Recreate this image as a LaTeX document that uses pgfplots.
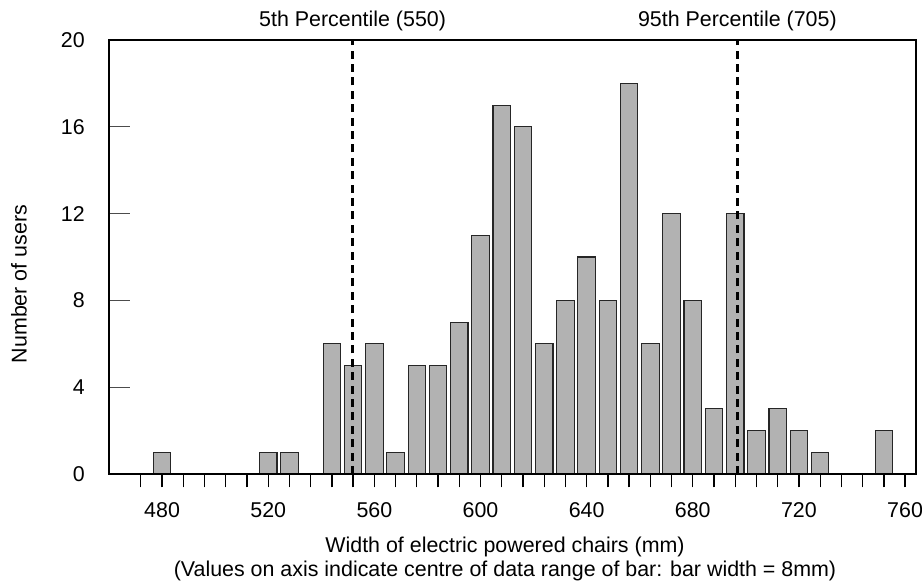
\documentclass[border=0pt]{standalone}
\usepackage{fontspec}
\setmainfont{Liberation Sans}
\usepackage{pgfplots}
\pgfplotsset{compat=1.18}
\begin{document}
\fontsize{10.7}{12.15}\selectfont
\begin{tikzpicture}
\useasboundingbox (-54.5pt,-54.5pt) rectangle (406.5pt,237pt);
\begin{axis}[
  at={(0,0)}, anchor=south west,
  scale only axis, width=403.35pt, height=217pt,
  xmin=460, xmax=764, ymin=0, ymax=20,
  axis on top, clip=false,
  axis line style={line width=1.2pt, black},
  tick align=outside,
  major tick length=6.7pt, minor tick length=6.7pt,
  xtick={480,520,...,760},
  minor xtick={472,488,496,504,512,528,536,544,552,568,576,584,592,608,616,624,632,648,656,664,672,688,696,704,712,728,736,744,752},
  xtick pos=bottom, ytick pos=left,
  ytick={0,4,...,20},
  tick style={black, line width=0.65pt},
  ytick style={draw=none},
  /pgf/number format/assume math mode=true,
  xticklabel style={yshift=-3.9pt},
  yticklabel style={xshift=-1.7pt},
  xlabel={Width of electric powered chairs (mm)\\(Values on axis indicate centre of data range of bar: bar width = 8mm)},
  xlabel style={at={(axis description cs:0.4909,0)}, anchor=north, inner sep=0pt, yshift=-31.1pt, align=center},
  ylabel={Number of users},
  ylabel style={at={(axis description cs:-0.1021,0.4378)}, anchor=base, rotate=0},
]
\addplot[ybar, bar width=6.6, fill=black!30, draw=black!85, line width=0.55pt] coordinates {
(480,1) (520,1) (528,1) (544,6) (552,5) (560,6) (568,1) (576,5) (584,5) (592,7)
(600,11) (608,17) (616,16) (624,6) (632,8) (640,10) (648,8) (656,18) (664,6)
(672,12) (680,8) (688,3) (696,12) (704,2) (712,3) (720,2) (728,1) (752,2)
};
\addplot[sharp plot, black, line width=1.2pt, dash pattern=on 4pt off 2.7pt] coordinates {(551.8,0) (551.8,20)};
\addplot[sharp plot, black, line width=1.2pt, dash pattern=on 4pt off 2.7pt] coordinates {(696.8,0) (696.8,20)};
\pgfplotsinvokeforeach{4,8,12,16}{
  \draw[line width=0.65pt, black!70] (axis cs:460,#1) -- ([xshift=10.5pt]axis cs:460,#1);
}
\node[anchor=base, yshift=6.5pt] at (axis cs:551.8,20) {5th Percentile (550)};
\node[anchor=base, yshift=6.5pt] at (axis cs:696.8,20) {95th Percentile (705)};
\end{axis}
\end{tikzpicture}
\end{document}
